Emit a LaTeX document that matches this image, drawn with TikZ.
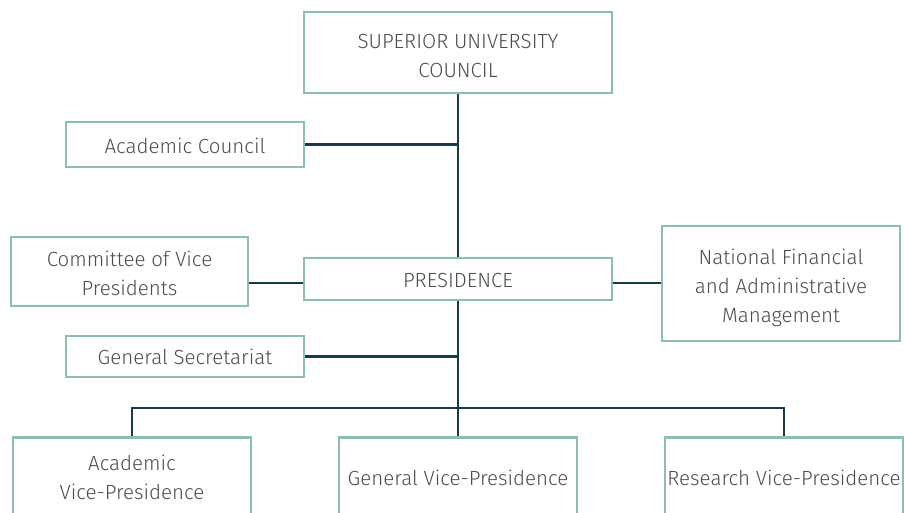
\documentclass[tikz,border=0pt]{standalone}
\usepackage{fontspec}
\setmainfont{Fira Sans}[UprightFont=* Light]
\definecolor{boxline}{HTML}{8BBFB2}
\definecolor{conn}{HTML}{163A4C}
\definecolor{txt}{HTML}{4D4D4D}
\begin{document}
\begin{tikzpicture}[x=1pt,y=-1pt,
  orgbox/.style={draw=boxline,line width=2.8pt,fill=white,rectangle,inner sep=0pt},
  boxlabel/.style={align=center,text=txt,font=\fontsize{20.5}{29}\selectfont,inner sep=0pt},
  link/.style={draw=conn,line width=2.8pt}]
\useasboundingbox (0,0) rectangle (904,512);
\clip (0,0) rectangle (904,512);
\node[orgbox,minimum width=308,minimum height=81] (top) at (458,52.5) {};
\node[boxlabel,yshift=-3pt] (topt) at (top.center) {SUPERIOR UNIVERSITY\\COUNCIL};
\node[orgbox,minimum width=238,minimum height=45] (ac) at (185,144.5) {};
\node[boxlabel,yshift=-1pt] (act) at (ac.center) {Academic Council};
\node[orgbox,minimum width=237,minimum height=69] (cvp) at (129.5,271.5) {};
\node[boxlabel,yshift=-2pt] (cvpt) at (cvp.center) {Committee of Vice\\Presidents};
\node[orgbox,minimum width=308,minimum height=42] (pres) at (458,279) {};
\node[boxlabel,yshift=-1pt] (prest) at (pres.center) {PRESIDENCE};
\node[orgbox,minimum width=238,minimum height=115] (nat) at (781,283.5) {};
\node[boxlabel,yshift=-4pt] (natt) at (nat.center) {National Financial\\and Administrative\\Management};
\node[orgbox,minimum width=238,minimum height=41] (gs) at (185,356.5) {};
\node[boxlabel] (gst) at (gs.center) {General Secretariat};
\node[orgbox,minimum width=238,minimum height=88,anchor=north] (avp) at (132,436) {};
\node[boxlabel,yshift=4pt] (avpt) at (avp.center) {Academic\\Vice-Presidence};
\node[orgbox,minimum width=238,minimum height=88,anchor=north] (gvp) at (458,436) {};
\node[boxlabel,yshift=4pt] (gvpt) at (gvp.center) {General Vice-Presidence};
\node[orgbox,minimum width=238,minimum height=88,anchor=north] (rvp) at (784,436) {};
\node[boxlabel,yshift=4pt] (rvpt) at (rvp.center) {Research Vice-Presidence};
\coordinate (bus) at (458,408);
\coordinate (mid) at (458,283);
\draw[link] (top.south) -- (pres.north);
\draw[link] (pres.south) -- (gvp.north);
\draw[link] (ac.east) -- (ac.east -| top.south);
\draw[link] (gs.east) -- (gs.east -| top.south);
\draw[link] (mid -| cvp.east) -- (mid -| pres.west);
\draw[link] (mid -| pres.east) -- (mid -| nat.west);
\draw[link] (avp.north) |- (bus) -| (rvp.north);
\end{tikzpicture}
\end{document}
